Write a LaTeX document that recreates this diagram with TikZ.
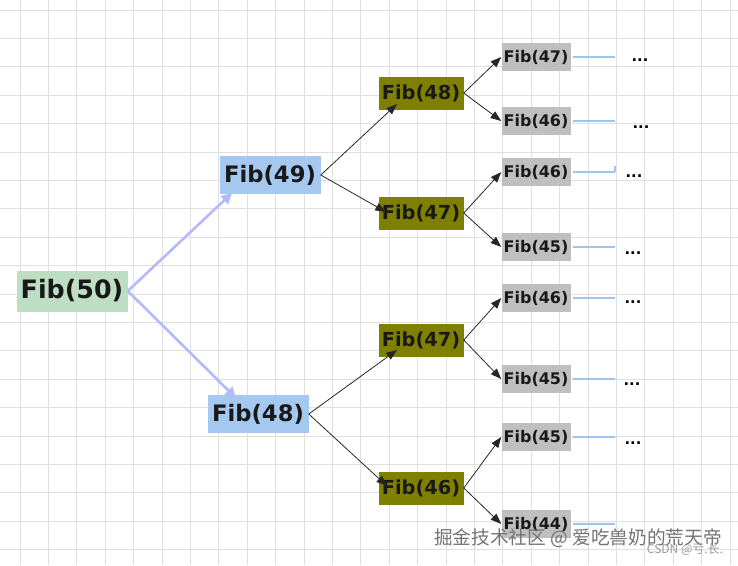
\documentclass[tikz,border=0pt]{standalone}
\usepackage{fontspec}
\setmainfont{DejaVu Sans}
\newfontfamily\cjk{Noto Sans CJK SC}
\usetikzlibrary{arrows.meta}
\begin{document}
\begin{tikzpicture}[x=0.75pt,y=-0.75pt,
  box/.style={inner sep=0pt,text=black!90},
  root/.style={box,fill={rgb,255:red,190;green,222;blue,196},minimum width=83.25pt,minimum height=30.75pt,font=\fontsize{19}{20}\selectfont\bfseries},
  lvl1/.style={box,fill={rgb,255:red,164;green,200;blue,240},minimum width=75.75pt,minimum height=29pt,font=\fontsize{17}{19}\selectfont\bfseries},
  lvl2/.style={box,fill={rgb,255:red,128;green,128;blue,0},minimum width=63.75pt,minimum height=24.75pt,font=\fontsize{14.5}{16}\selectfont\bfseries},
  lvl3/.style={box,fill=black!25,minimum width=51.75pt,minimum height=21pt,font=\fontsize{12}{13}\selectfont\bfseries},
  thickarr/.style={draw={rgb,255:red,180;green,186;blue,250},line width=2pt,-{Triangle[length=8pt,width=8pt]}},
  thinarr/.style={draw=black!85,line width=0.6pt,-{Triangle[length=8pt,width=6pt]}},
  tail/.style={draw={rgb,255:red,160;green,196;blue,240},line width=2.2pt},
  dots/.style={font=\fontsize{11}{12}\selectfont\bfseries}]
\useasboundingbox (0,0) rectangle (738,565);
\foreach \x in {20,48.4,...,738} \draw[black!12,line width=0.75pt] (\x,0) -- (\x,565);
\foreach \y in {10,38.4,...,565} \draw[black!12,line width=0.75pt] (0,\y) -- (738,\y);
\node[root] (a) at (72,291) {Fib(50)};
\node[lvl1] (b1) at (270,175) {Fib(49)};
\node[lvl1] (b2) at (258,414) {Fib(48)};
\node[lvl2] (c1) at (421,93) {Fib(48)};
\node[lvl2] (c2) at (421,213) {Fib(47)};
\node[lvl2] (c3) at (421,340) {Fib(47)};
\node[lvl2] (c4) at (421,488) {Fib(46)};
\foreach \n/\y/\t in {d1/57/47, d2/121/46, d3/172/46, d4/247/45, d5/298/46, d6/379/45, d7/437/45, d8/524/44}{
  \node[lvl3] (\n) at (536,\y) {Fib(\t)};
  \coordinate (\n e) at (573,\y);
  \coordinate (\n t) at (615,\y);
  \draw[tail] (\n e) -- (\n t);
}
\foreach \n/\dx/\dy in {d1/640/60, d2/641/127, d3/634/176, d4/633/253, d5/633/302, d6/632/384, d7/633/443}
  \node[dots] (\n x) at (\dx,\dy) {...};
\draw[tail] (d3t) -- ++(0,-6);
\draw[thickarr] (a.east) -- (232,193);
\draw[thickarr] (a.east) -- (236,398);
\draw[thinarr] (b1.east) -- (397,104);
\draw[thinarr] (b1.east) -- (386,212);
\draw[thinarr] (b2.east) -- (397,350);
\draw[thinarr] (b2.east) -- (387,486);
\draw[thinarr] (c1.east) -- (d1.west);
\draw[thinarr] (c1.east) -- (d2.west);
\draw[thinarr] (c2.east) -- (d3.west);
\draw[thinarr] (c2.east) -- (d4.west);
\draw[thinarr] (c3.east) -- (d5.west);
\draw[thinarr] (c3.east) -- (d6.west);
\draw[thinarr] (c4.east) -- (d7.west);
\draw[thinarr] (c4.east) -- (d8.west);
\node[text=black!55,font=\cjk\fontsize{14}{15}\selectfont] (wm) at (578,538) {掘金技术社区 @ 爱吃兽奶的荒天帝};
\node[text=black!40,font=\cjk\fontsize{9}{10}\selectfont] (wm2) at (685,550) {CSDN @亏.长.};
\end{tikzpicture}
\end{document}
